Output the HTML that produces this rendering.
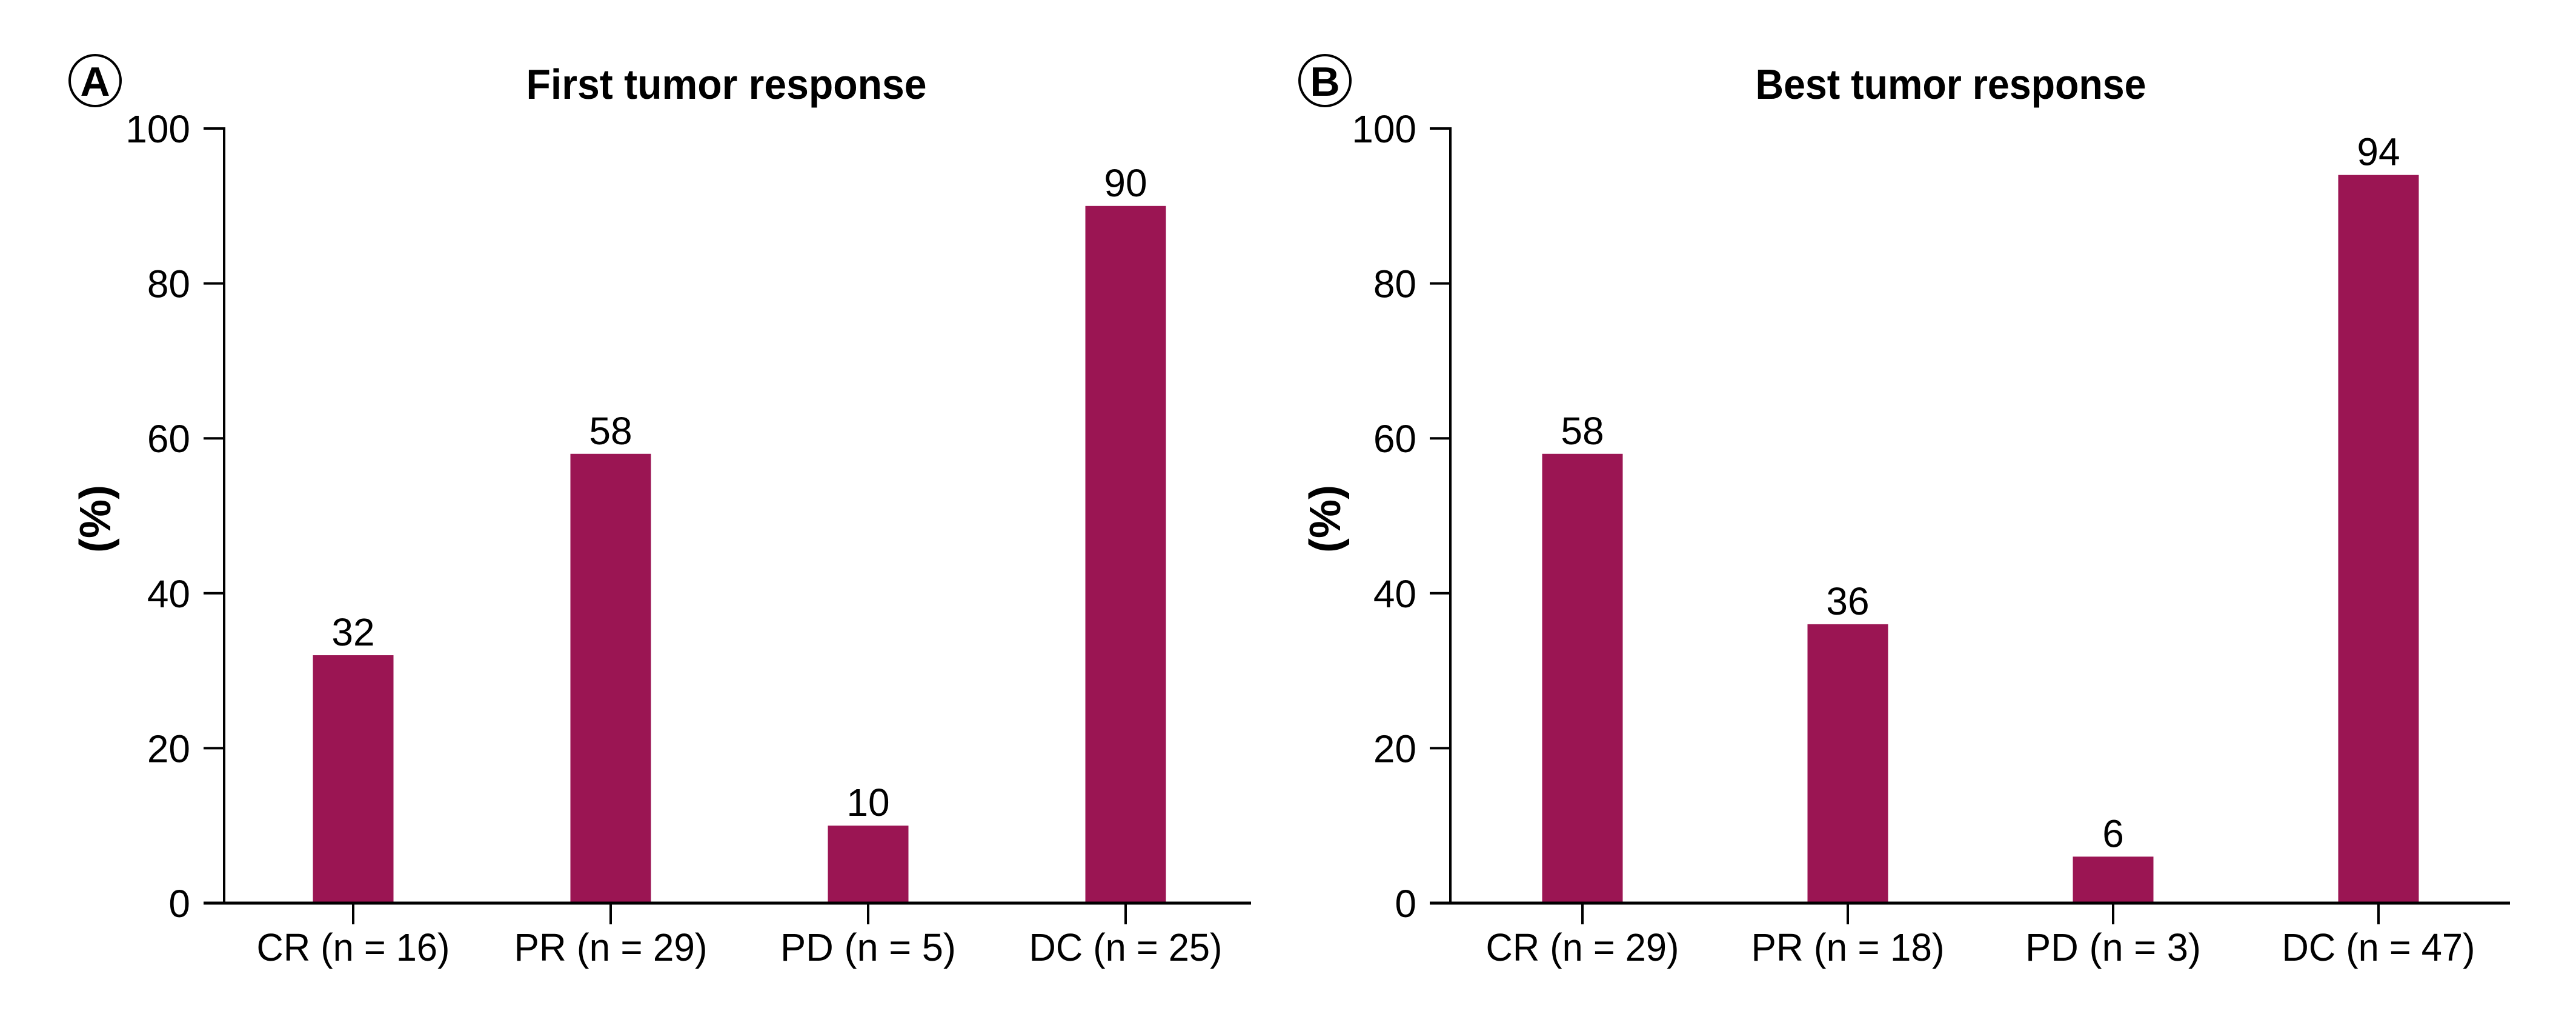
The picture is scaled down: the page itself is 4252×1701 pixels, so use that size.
<!DOCTYPE html>
<html><head><meta charset="utf-8"><style>
html,body{margin:0;padding:0;background:#fff;}
svg{display:block;}
text{font-family:"Liberation Sans",Arial,sans-serif;fill:#000;}
</style></head><body>
<svg id="chart" width="4252" height="1701" viewBox="0 0 4252 1701" xmlns="http://www.w3.org/2000/svg"></svg>
<script>
const categoriesA = ["CR (n = 16)", "PR (n = 29)", "PD (n = 5)", "DC (n = 25)"];
const valuesA = [32, 58, 10, 90];
const categoriesB = ["CR (n = 29)", "PR (n = 18)", "PD (n = 3)", "DC (n = 47)"];
const valuesB = [58, 36, 6, 94];
const yTicks = [0, 20, 40, 60, 80, 100];

const NS = "http://www.w3.org/2000/svg";
const svg = document.getElementById("chart");
function mk(tag, attrs, parent) {
  const e = document.createElementNS(NS, tag);
  for (const k in attrs) e.setAttribute(k, attrs[k]);
  (parent || svg).appendChild(e);
  return e;
}

const panels = [
  {id: "a", letter: "A", title: "First tumor response", titleX: 1199, titleLen: 661, circleX: 157,
   axisX: 370, axisEnd: 2065, firstCenter: 583, step: 425, cats: categoriesA, vals: valuesA},
  {id: "b", letter: "B", title: "Best tumor response", titleX: 3220, titleLen: 645, circleX: 2187,
   axisX: 2394, axisEnd: 4143, firstCenter: 2612, step: 438, cats: categoriesB, vals: valuesB}
];
const y0 = 1490, y100 = 212;
function yScale(v) { return y0 - (v / 100) * (y0 - y100); }
const barW = 133;

panels.forEach(p => {
  const g = mk("g", {});
  
  
  function xScale(i) { return p.firstCenter + i * p.step; }

  const circ = mk("circle", {cx: p.circleX, cy: 133, r: 42, fill: "none", stroke: "#000", "stroke-width": 4}, g);
  
  
  const lt = mk("text", {x: p.circleX, y: 158, "text-anchor": "middle", "font-size": 68, "font-weight": "bold"}, g);
  lt.textContent = p.letter;
  
  

  const t = mk("text", {x: p.titleX, y: 163, "text-anchor": "middle", "font-size": 70, "font-weight": "bold", textLength: p.titleLen, lengthAdjust: "spacingAndGlyphs"}, g);
  t.textContent = p.title;
  
  

  const yt = mk("text", {x: 0, y: 0, "text-anchor": "middle", "font-size": 72, "font-weight": "bold", transform: `translate(${p.circleX + 25},856) rotate(-90)`}, g);
  yt.textContent = "(%)";
  
  

  p.vals.forEach((v, i) => {
    const cx = xScale(i);
    const r = mk("rect", {x: cx - barW / 2, y: yScale(v), width: barW, height: y0 - yScale(v), fill: "#9b1553"}, g);
    
    
    const vl = mk("text", {x: cx, y: yScale(v) - 16, "text-anchor": "middle", "font-size": 64}, g);
    vl.textContent = String(v);
    
    
    const tk = mk("line", {x1: cx, x2: cx, y1: y0, y2: 1525, stroke: "#000", "stroke-width": 4}, g);
    
    
    const cl = mk("text", {x: cx, y: 1585, "text-anchor": "middle", "font-size": 64, textLength: p.cats[i].length * 29, lengthAdjust: "spacingAndGlyphs"}, g);
    cl.textContent = p.cats[i];
    
    
  });

  yTicks.forEach(v => {
    const y = yScale(v);
    const tk = mk("line", {x1: p.axisX - 34, x2: p.axisX, y1: y, y2: y, stroke: "#000", "stroke-width": 4}, g);
    
    
    const tl = mk("text", {x: p.axisX - 56, y: y + 23, "text-anchor": "end", "font-size": 64}, g);
    tl.textContent = String(v);
    
    
  });

  const ya = mk("line", {x1: p.axisX, x2: p.axisX, y1: y100 - 2, y2: y0 + 2, stroke: "#000", "stroke-width": 4}, g);
  
  
  const xa = mk("line", {x1: p.axisX - 34, x2: p.axisEnd, y1: y0, y2: y0, stroke: "#000", "stroke-width": 5}, g);
  
  
});
</script>
</body></html>
